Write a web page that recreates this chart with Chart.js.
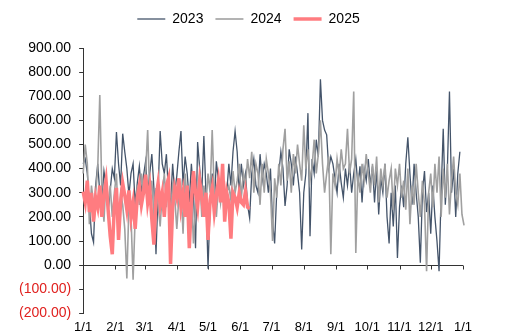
<!DOCTYPE html>
<html><head><meta charset="utf-8">
<script src="https://cdn.jsdelivr.net/npm/chart.js@4.4.1/dist/chart.umd.min.js"></script>
<style>html,body{margin:0;padding:0;background:#fff;}#wrap{width:524px;height:336px;}</style>
</head><body><div id="wrap"><canvas id="c" width="524" height="336"></canvas></div>
<script>
const seriesNames = ['2023', '2024', '2025'];
const monthStartDays = [0, 31, 59, 90, 120, 151, 181, 212, 243, 273, 304, 334, 365];
const monthLabels = ['1/1','2/1','3/1','4/1','5/1','6/1','7/1','8/1','9/1','10/1','11/1','12/1','1/1'];
const yTicks = [-200,-100,0,100,200,300,400,500,600,700,800,900];
// sampling interval (days) of each series
const step2023 = 2, step2024 = 2, step2025 = 2;
const values2023 = [
  420,440,380,250,130,95,330,420,300,270,
  390,330,220,310,400,360,552,420,330,545,
  470,400,290,380,420,250,340,410,300,370,
  430,300,380,460,320,45,300,556,420,380,
  460,300,250,420,300,370,470,556,330,450,
  380,260,420,300,70,510,400,300,535,300,
  -15,250,380,250,430,350,300,390,200,300,
  420,330,470,555,470,300,420,330,380,250,
  195,380,440,330,300,460,350,420,380,300,
  400,180,90,300,380,470,400,245,330,480,
  420,330,450,380,300,65,300,380,630,120,
  440,380,520,450,770,600,560,540,400,450,
  420,360,300,420,340,280,400,330,420,300,
  380,440,330,410,260,400,350,440,330,410,
  260,400,210,360,300,420,200,90,300,160,
  330,30,240,330,240,420,530,380,250,420,
  300,200,10,300,390,220,300,130,330,200,
  100,-25,300,565,250,400,720,300,400,200,
  380,470];
const values2024 = [
  380,500,420,170,330,250,300,400,705,300,
  180,360,240,330,200,300,380,150,300,250,
  150,-55,250,200,-60,200,330,250,380,300,
  380,560,280,350,200,320,250,160,300,380,
  240,360,200,330,280,150,280,330,130,380,
  260,150,300,90,250,300,380,200,330,250,
  380,300,560,300,200,330,260,370,250,300,
  330,270,390,300,350,420,280,380,330,440,
  360,470,300,420,380,250,420,300,440,380,
  300,100,360,280,420,330,480,565,350,430,
  300,460,380,500,420,350,580,400,480,350,
  410,520,380,460,600,420,300,380,450,45,
  380,330,440,370,480,400,420,565,380,440,
  720,50,380,300,420,350,460,380,300,420,
  330,450,260,400,330,420,280,350,400,230,
  400,330,420,280,350,230,400,170,330,250,
  420,300,200,350,250,-25,300,380,240,420,
  300,450,200,400,280,420,210,350,450,300,
  250,380,210,165];
const values2025 = [
  305,260,350,220,300,180,280,240,330,200,
  290,350,230,120,45,250,320,105,260,340,
  290,230,310,200,260,150,280,330,250,300,
  375,260,320,190,85,280,340,250,300,200,
  330,360,5,240,320,280,360,240,300,200,
  330,70,260,390,300,240,350,280,200,300,
  105,270,320,220,290,350,260,420,180,300,
  260,110,300,280,240,300,260,250,305,240,
  235];
const colors = ['#44546A', '#A0A0A0', '#FF7C80'];
const widths = [1.3, 1.6, 3.5];

function toPoints(vals, step){ return vals.map((v,i)=>({x:i*step, y:v})); }
const seriesData = [toPoints(values2023, step2023), toPoints(values2024, step2024), toPoints(values2025, step2025)];
const drawOrder = [2, 1, 0];

const fmt = v => {
  const s = Math.abs(v).toFixed(2);
  return v < 0 ? '(' + s + ')' : s;
};
const setMonthTicks = axis => { axis.ticks = monthStartDays.map(d => ({value: d})); };

// zero line with month tick marks, drawn through the chart's own scales
const zeroAxis = {
  id: 'zeroAxis',
  beforeDatasetsDraw(chart) {
    const {ctx, scales: {x, y}} = chart;
    const py = Math.round(y.getPixelForValue(0)) + 0.5;
    ctx.save();
    ctx.strokeStyle = '#333';
    ctx.lineWidth = 1;
    ctx.beginPath();
    ctx.moveTo(x.getPixelForValue(0), py);
    ctx.lineTo(x.getPixelForValue(365), py);
    monthStartDays.forEach(d => {
      const px = Math.round(x.getPixelForValue(d)) + 0.5;
      ctx.moveTo(px, py);
      ctx.lineTo(px, py + 4);
    });
    ctx.stroke();
    ctx.restore();
  }
};
// extra room under the legend
const legendSpace = {
  id: 'legendSpace',
  afterInit(chart) {
    const lg = chart.legend;
    if (!lg) return;
    const orig = lg.fit;
    lg.fit = function() {
      orig.call(this);
      this.height += 12;
      if (this.lineWidths && this.lineWidths.length) this.lineWidths[0] -= 23;
    };
  }
};

new Chart(document.getElementById('c'), {
  type: 'line',
  data: {
    datasets: seriesNames.map((n, k) => ({
      label: n,
      data: seriesData[k],
      borderColor: colors[k],
      backgroundColor: colors[k],
      borderWidth: widths[k],
      pointRadius: 0,
      tension: 0,
      clip: false,
      order: drawOrder[k]
    }))
  },
  plugins: [zeroAxis, legendSpace],
  options: {
    responsive: false,
    animation: false,
    layout: { padding: { left: 11, right: 61, top: 0, bottom: -5 } },
    plugins: {
      tooltip: { enabled: false },
      legend: {
        display: true,
        position: 'top',
        labels: {
          usePointStyle: true,
          pointStyle: 'line',
          pointStyleWidth: 28,
          padding: 12,
          color: '#000',
          sort: (a, b) => a.datasetIndex - b.datasetIndex,
          font: { family: 'Liberation Sans, Arial, sans-serif', size: 14 }
        }
      }
    },
    scales: {
      x: {
        type: 'linear',
        position: 'bottom',
        min: 0, max: 365,
        afterBuildTicks: setMonthTicks,
        ticks: {
          autoSkip: false,
          maxRotation: 0,
          padding: 6,
          color: '#000',
          font: { family: 'Liberation Sans, Arial, sans-serif', size: 13 },
          callback: (v, i) => monthLabels[i]
        },
        grid: { display: false, drawTicks: false },
        border: { display: false }
      },
      y: {
        type: 'linear',
        min: -200, max: 900,
        afterBuildTicks: axis => { axis.ticks = yTicks.map(v => ({value: v})); },
        ticks: {
          padding: 8,
          color: c => (c.tick && c.tick.value < 0) ? '#E0201E' : '#000',
          font: { family: 'Liberation Sans, Arial, sans-serif', size: 14 },
          callback: v => fmt(v)
        },
        grid: { display: true, drawOnChartArea: false, drawTicks: true, tickLength: 4, color: '#333', lineWidth: 1 },
        border: { display: true, color: '#333', width: 1 }
      }
    }
  }
});
</script></body></html>
